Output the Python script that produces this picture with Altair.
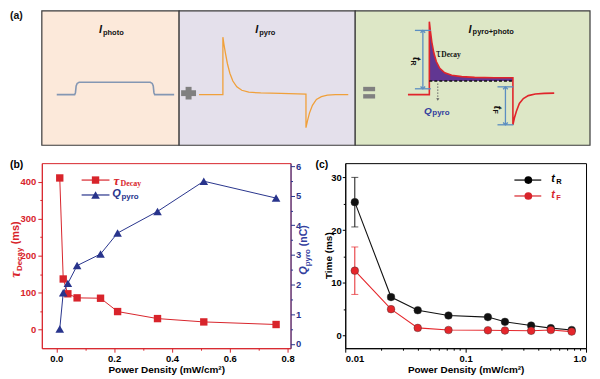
import altair as alt
import pandas as pd

SANS = "Liberation Sans"
SERIF = "Liberation Serif"
RED = "#D8242B"
NAVY = "#28348C"
QBLUE = "#33409E"
ARROW = "#5B8EC1"
GREY = "#808080"

# ---------------- panel (b) / (c) values ----------------
power = [0.012, 0.024, 0.040, 0.072, 0.153, 0.212, 0.350, 0.510, 0.760]
tau_decay = [410, 137, 97, 86, 85, 49, 30, 21, 14]
q_pyro = [0.50, 1.72, 2.04, 2.64, 3.03, 3.74, 4.47, 5.49, 4.92]
t_rise = [25.3, 7.3, 4.8, 3.8, 3.5, 2.6, 1.9, 1.4, 1.05]
t_rise_err = [4.7, 0.4, 0, 0, 0, 0, 0, 0, 0]
t_fall = [12.3, 5.0, 1.45, 1.05, 1.0, 0.95, 0.9, 1.05, 0.75]
t_fall_err = [4.5, 0, 0, 0, 0, 0, 0, 0, 0]

b_x_ticks = [0.0, 0.1, 0.2, 0.3, 0.4, 0.5, 0.6, 0.7, 0.8]
b_left_ticks = [0, 50, 100, 150, 200, 250, 300, 350, 400]
b_right_ticks = [0, 0.5, 1, 1.5, 2, 2.5, 3, 3.5, 4, 4.5, 5, 5.5, 6]
c_x_ticks = [0.01, 0.02, 0.03, 0.04, 0.05, 0.06, 0.07, 0.08, 0.09,
             0.1, 0.2, 0.3, 0.4, 0.5, 0.6, 0.7, 0.8, 0.9, 1.0]
c_y_ticks = [0, 5, 10, 15, 20, 25, 30]

# ---------------- panel (a) schematic ----------------
box_x0 = [40, 178, 355]
box_x1 = [178, 355, 591]
box_fill = ["#FCE9DA", "#E4E0EB", "#DDE7C6"]
sign_x0 = [180, 184.5, 363, 363]
sign_x1 = [195, 190.5, 375, 375]
sign_y0 = [86.5, 83, 83, 90.5]
sign_y1 = [92.5, 96, 87.5, 95]

photo_x = [55, 73, 73.8, 74.5, 75.5, 77.5, 149, 151, 152, 152.7, 153.5, 173]
photo_y = [91, 91, 89, 82, 79.5, 78.3, 78.3, 79.5, 82, 89, 91, 91]

pyro_x = [198, 222, 222, 223, 224.5, 226.5, 229, 232, 236, 241, 248, 260, 280, 305.5,
          305.5, 307, 309, 312, 316, 321, 327, 335, 348]
pyro_y = [91, 91, 32, 39, 48, 59, 69, 77, 83, 86.5, 88.5, 89.3, 89.8, 90.5,
          125, 118, 110, 102, 96, 93, 91.5, 91, 91]

comb_x = [408, 429.5, 429.5, 430.5, 432, 434, 436.5, 440, 445, 452, 462, 475, 495, 513.5,
          513.5, 515, 517, 520, 524, 529, 536, 545, 555]
comb_y = [91, 91, 16, 25, 37, 48, 57, 64, 68.5, 71, 72.5, 73.3, 73.6, 73.7,
          122, 115, 108, 100, 95, 92, 90.3, 89.7, 89.5]
q_base = 77

# vertical double arrows: x, y_top, y_bottom, cap half-width
arrow_x = [423, 506]
arrow_top = [25, 83]
arrow_bot = [85, 122]
arrow_cap = [8, 8]

top_text = [
    # x, y, text, size, color, font, style, weight, align, angle
    (8, 10, "(a)", 10.5, "#111", SANS, "normal", "bold", "left", 0),
    (100.5, 25, "I", 11, "#111", SANS, "italic", "bold", "right", 0),
    (101.5, 27.5, "photo", 7.5, "#111", SANS, "normal", "bold", "left", 0),
    (257.5, 25, "I", 11, "#111", SANS, "italic", "bold", "right", 0),
    (258.5, 27.5, "pyro", 7.5, "#111", SANS, "normal", "bold", "left", 0),
    (472, 24.5, "I", 11, "#111", SANS, "italic", "bold", "right", 0),
    (473, 27, "pyro+photo", 7.5, "#111", SANS, "normal", "bold", "left", 0),
    (441, 48, "τ", 12, "#111", SERIF, "normal", "normal", "right", 0),
    (441.5, 50.5, "Decay", 7.5, "#111", SERIF, "normal", "bold", "left", 0),
    (432, 107.5, "Q", 10, QBLUE, SANS, "italic", "bold", "right", 0),
    (432.5, 110, "pyro", 8, QBLUE, SANS, "normal", "bold", "left", 0),
    (416, 54, "t", 11, "#111", SANS, "italic", "bold", "center", 90),
    (413.5, 58.5, "R", 7, "#111", SANS, "normal", "bold", "center", 90),
    (497.5, 104, "t", 11, "#111", SANS, "italic", "bold", "center", 90),
    (495, 108.5, "F", 7, "#111", SANS, "normal", "bold", "center", 90),
]

TOP_W, TOP_H = 551, 135
B_W, B_H = 250, 186
C_W, C_H = 242, 186

# ================= panel (a) =================
sx = alt.Scale(domain=[40, 591], nice=False, zero=False)
sy = alt.Scale(domain=[5, 143], nice=False, zero=False, reverse=True)


def XA(f):
    return alt.X(f, type="quantitative", scale=sx, axis=None)


def YA(f):
    return alt.Y(f, type="quantitative", scale=sy, axis=None)


boxes = pd.DataFrame({"x0": box_x0, "x1": box_x1, "y0": [5, 5, 5], "y1": [143, 143, 143],
                      "fill": box_fill})
box_layer = alt.Chart(boxes).mark_rect(stroke="#3A3A3A", strokeWidth=1.2).encode(
    x=XA("x0"), x2="x1", y=YA("y0"), y2="y1", fill=alt.Fill("fill:N", scale=None))

signs = pd.DataFrame({"x0": sign_x0, "x1": sign_x1, "y0": sign_y0, "y1": sign_y1})
sign_layer = alt.Chart(signs).mark_rect(color=GREY).encode(
    x=XA("x0"), x2="x1", y=YA("y0"), y2="y1")


def curve(xv, yv, color, width):
    df = pd.DataFrame({"x": xv, "y": yv, "i": list(range(len(xv)))})
    return alt.Chart(df).mark_line(color=color, strokeWidth=width).encode(
        x=XA("x"), y=YA("y"), order="i:Q")


fill_df = pd.DataFrame({"x": comb_x[2:14], "y": comb_y[2:14], "b": [q_base] * 12})
fill_layer = alt.Chart(fill_df).mark_area(color="#5A2D8F", opacity=0.95).encode(
    x=XA("x"), y=YA("y"), y2="b")

dash_df = pd.DataFrame({"x": [comb_x[2]], "x2": [comb_x[13]], "y": [q_base]})
dash_layer = alt.Chart(dash_df).mark_rule(color="#111", strokeWidth=1.5, strokeDash=[3, 2]).encode(
    x=XA("x"), x2="x2", y=YA("y"))

qarrow_df = pd.DataFrame({"x": [438], "y": [q_base + 2.5], "y2": [q_base + 19]})
qarrow_layer = alt.Chart(qarrow_df).mark_rule(color="#666", strokeWidth=1, strokeDash=[1.5, 1.5]).encode(
    x=XA("x"), y=YA("y"), y2="y2")
qhead_layer = alt.Chart(qarrow_df).mark_point(shape="triangle-down", filled=True, size=10, color="#666",
                                              opacity=1).encode(x=XA("x"), y=YA("y2"))

arr = pd.DataFrame({"x": arrow_x, "t": arrow_top, "b": arrow_bot,
                    "l": [a - c for a, c in zip(arrow_x, arrow_cap)],
                    "r": [a + c for a, c in zip(arrow_x, arrow_cap)]})
arr_shaft = alt.Chart(arr).mark_rule(color=ARROW, strokeWidth=1.3).encode(x=XA("x"), y=YA("t"), y2="b")
arr_cap_t = alt.Chart(arr).mark_rule(color=ARROW, strokeWidth=1.3).encode(x=XA("l"), x2="r", y=YA("t"))
arr_cap_b = alt.Chart(arr).mark_rule(color=ARROW, strokeWidth=1.3).encode(x=XA("l"), x2="r", y=YA("b"))
head_up = alt.Chart(arr).mark_point(shape="M-1,1L0,0L1,1", filled=False, size=22, color=ARROW,
                                    strokeWidth=1.3, opacity=1).encode(x=XA("x"), y=YA("t"))
head_dn = alt.Chart(arr).mark_point(shape="M-1,-1L0,0L1,-1", filled=False, size=22, color=ARROW,
                                    strokeWidth=1.3, opacity=1).encode(x=XA("x"), y=YA("b"))

text_layers = []
for (tx, ty, tt, ts, tc, tf, tst, tw, ta, tang) in top_text:
    text_layers.append(
        alt.Chart(pd.DataFrame({"x": [tx], "y": [ty]})).mark_text(
            text=tt, fontSize=ts, color=tc, font=tf, fontStyle=tst, fontWeight=tw,
            align=ta, baseline="middle", angle=tang).encode(x=XA("x"), y=YA("y")))

top = alt.layer(
    box_layer, sign_layer,
    curve(photo_x, photo_y, "#8497B3", 1.6),
    curve(pyro_x, pyro_y, "#F0A03A", 1.3),
    fill_layer,
    curve(comb_x, comb_y, "#E0252B", 1.6),
    dash_layer, qarrow_layer, qhead_layer,
    arr_shaft, arr_cap_t, arr_cap_b, head_up, head_dn,
    *text_layers,
).properties(width=TOP_W, height=TOP_H, view=alt.ViewBackground(stroke="transparent"))


# ================= helpers for annotations =================
def note(text, x, y, size, color="black", weight="bold", style="normal", font=SANS, angle=0,
         align="center", baseline="middle"):
    return alt.Chart(pd.DataFrame({"k": [0]})).mark_text(
        text=text, fontSize=size, color=color, fontWeight=weight, fontStyle=style, font=font,
        angle=angle, align=align, baseline=baseline).encode(x=alt.value(x), y=alt.value(y))


def key_line(x0, x1, y, color):
    return alt.Chart(pd.DataFrame({"k": [0]})).mark_rule(color=color, strokeWidth=1.2).encode(
        x=alt.value(x0), x2=alt.value(x1), y=alt.value(y))


def key_mark(x, y, shape, color, size):
    return alt.Chart(pd.DataFrame({"k": [0]})).mark_point(
        shape=shape, filled=True, size=size, color=color, opacity=1).encode(
        x=alt.value(x), y=alt.value(y))


def major_minor(test, big=4, small=2):
    return {"condition": {"test": test, "value": big}, "value": small}


# ================= panel (b) =================
dfb = pd.DataFrame({"p": power, "tau": tau_decay, "q": q_pyro})
bx_test = "round(datum.value*10) % 2 == 0"
bx = alt.X("p:Q", scale=alt.Scale(domain=[-0.05, 0.81], nice=False, zero=False),
           axis=alt.Axis(values=b_x_ticks, labelExpr=f"{bx_test} ? format(datum.value, '.1f') : ''",
                         tickSize=major_minor(bx_test, 4, 2), title="Power Density (mW/cm²)",
                         domainColor=RED, tickColor=RED, labelColor="black", labelPadding=1,
                         titlePadding=2, labelOverlap=False))
yl_test = "datum.value % 100 == 0"
by_left = alt.Y("tau:Q", scale=alt.Scale(domain=[-50, 450], nice=False, zero=False),
                axis=alt.Axis(values=b_left_ticks, labelExpr=f"{yl_test} ? datum.label : ''",
                              tickSize=major_minor(yl_test, 4, 2), orient="left", title=None,
                              domainColor=RED, tickColor=RED, labelColor=RED, labelPadding=2,
                              labelOverlap=False))
yr_test = "datum.value % 1 == 0"
by_right = alt.Y("q:Q", scale=alt.Scale(domain=[-0.15, 6.1], nice=False, zero=False),
                 axis=alt.Axis(values=b_right_ticks,
                               labelExpr=f"{yr_test} ? format(datum.value, 'd') : ''",
                               tickSize=major_minor(yr_test, 4, 2), orient="right", title=None,
                               domainColor=NAVY, tickColor=NAVY, labelColor=NAVY, labelPadding=1,
                               labelOverlap=False))

tau_line = alt.Chart(dfb).mark_line(color=RED, strokeWidth=1).encode(x=bx, y=by_left)
tau_pts = alt.Chart(dfb).mark_point(shape="square", filled=True, size=55, color=RED,
                                    opacity=1).encode(x=bx, y=by_left)
q_line = alt.Chart(dfb).mark_line(color=NAVY, strokeWidth=1).encode(x=bx, y=by_right)
q_pts = alt.Chart(dfb).mark_point(shape="triangle-up", filled=True, size=75, color=NAVY,
                                  opacity=1).encode(x=bx, y=by_right)

b_notes = [
    note("(b)", -32, 2, 10.5, align="left"),
    note("τ", -26, 112, 14, color=RED, style="italic", font=SERIF, angle=270),
    note("Decay", -22, 96.7, 8, color=RED, angle=270),
    note("(ms)", -26, 70, 11, color=RED, angle=270),
    note("Q", B_W + 14, 108, 11, color=QBLUE, style="italic", angle=270),
    note("pyro", B_W + 18, 95, 8, color=QBLUE, angle=270),
    note("(nC)", B_W + 14, 73, 10.5, color=QBLUE, angle=270),
    key_line(40, 68, 17, RED), key_mark(54, 17, "square", RED, 55),
    note("τ", 75, 18, 13, color=RED, style="italic", font=SERIF),
    note("Decay", 79, 20.5, 8, color=RED, font=SERIF, align="left"),
    key_line(40, 68, 32, NAVY), key_mark(54, 32, "triangle-up", NAVY, 75),
    note("Q", 75, 31, 11, color=NAVY, style="italic"),
    note("pyro", 80, 34, 8, color=NAVY, align="left"),
]

left_layer = alt.layer(tau_line, tau_pts, *b_notes)
right_layer = alt.layer(q_line, q_pts)
panel_b = alt.layer(left_layer, right_layer).resolve_scale(y="independent").properties(
    width=B_W, height=B_H, view=alt.ViewBackground(stroke=RED, strokeWidth=1))

# ================= panel (c) =================
dfc = pd.DataFrame({"p": power, "tr": t_rise, "tre": t_rise_err, "tf": t_fall, "tfe": t_fall_err})
dfc["tr_lo"] = dfc["tr"] - dfc["tre"]
dfc["tr_hi"] = dfc["tr"] + dfc["tre"]
dfc["tf_lo"] = dfc["tf"] - dfc["tfe"]
dfc["tf_hi"] = dfc["tf"] + dfc["tfe"]
err_r = dfc[dfc["tre"] > 0]
err_f = dfc[dfc["tfe"] > 0]

cx_test = "abs(log(datum.value)/LN10 - round(log(datum.value)/LN10)) < 0.001"
cx = alt.X("p:Q", scale=alt.Scale(type="log", domain=[0.01, 1.0], nice=False),
           axis=alt.Axis(values=c_x_ticks,
                         labelExpr=f"{cx_test} ? (datum.value >= 1 ? '1.0' : (datum.value >= 0.1 ? '0.1' : '0.01')) : ''",
                         tickSize=major_minor(cx_test, 4, 2), title="Power Density (mW/cm²)",
                         domainColor="black", tickColor="black", labelPadding=1, titlePadding=2,
                         labelOverlap=False))
cy_test = "datum.value % 10 == 0"
c_yscale = alt.Scale(domain=[-2.4, 32.7], nice=False, zero=False)
c_yaxis = alt.Axis(values=c_y_ticks, labelExpr=f"{cy_test} ? datum.label : ''",
                   tickSize=major_minor(cy_test, 3, 2), title=None, domainColor="black",
                   tickColor="black", labelPadding=1, labelOverlap=False)


def cy(f):
    return alt.Y(f, type="quantitative", scale=c_yscale, axis=c_yaxis)


def series(df, edf, f, lo, hi, color):
    line = alt.Chart(df).mark_line(color=color, strokeWidth=1.1).encode(x=cx, y=cy(f))
    bar = alt.Chart(edf).mark_rule(color=color, strokeWidth=1).encode(x=cx, y=cy(lo), y2=hi)
    cap_l = alt.Chart(edf).mark_tick(color=color, orient="horizontal", size=7, thickness=1).encode(
        x=cx, y=cy(lo))
    cap_h = alt.Chart(edf).mark_tick(color=color, orient="horizontal", size=7, thickness=1).encode(
        x=cx, y=cy(hi))
    pts = alt.Chart(df).mark_point(shape="circle", filled=True, size=60, color=color, opacity=1,
                                   stroke="#333", strokeWidth=0.4).encode(x=cx, y=cy(f))
    return [line, bar, cap_l, cap_h, pts]


c_notes = [
    note("(c)", -30, 2, 10.5, align="left"),
    note("Time (ms)", -16, 93, 10, angle=270),
    key_line(170, 197, 17, "black"), key_mark(184, 17, "circle", "black", 60),
    note("t", 209, 16, 11, style="italic"),
    note("R", 212, 19, 7.5, align="left"),
    key_line(170, 197, 33, RED), key_mark(184, 33, "circle", RED, 60),
    note("t", 209, 32, 11, color=RED, style="italic"),
    note("F", 212, 35, 7.5, color=RED, align="left"),
]

panel_c = alt.layer(
    *series(dfc, err_r, "tr", "tr_lo", "tr_hi", "#111111"),
    *series(dfc, err_f, "tf", "tf_lo", "tf_hi", "#E5262B"),
    *c_notes,
).properties(width=C_W, height=C_H, view=alt.ViewBackground(stroke="black", strokeWidth=1))

bottom = alt.hconcat(panel_b, panel_c, spacing=1)
chart = alt.vconcat(top, bottom, spacing=12).properties(padding=0).configure_axis(
    labelFont=SANS, titleFont=SANS, labelFontWeight="bold", titleFontWeight="bold",
    labelFontSize=9.5, titleFontSize=10, grid=False, titleColor="black", domainWidth=1,
    tickWidth=1,
)

chart.save("out.html", embed_options={"renderer": "svg", "actions": False})
